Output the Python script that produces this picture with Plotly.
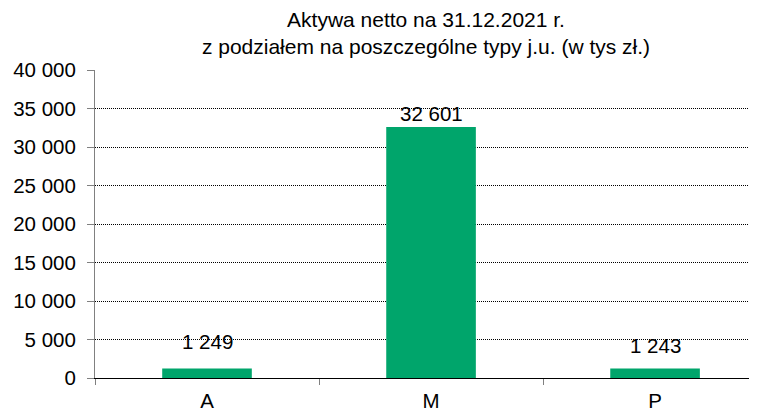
import plotly.graph_objects as go

categories = ["A", "M", "P"]
values = [1249, 32601, 1243]
value_labels = ["1 249", "32 601", "1 243"]
y_ticks = [0, 5000, 10000, 15000, 20000, 25000, 30000, 35000, 40000]
y_tick_labels = ["0", "5 000", "10 000", "15 000", "20 000", "25 000", "30 000", "35 000", "40 000"]
title_lines = ["Aktywa netto na 31.12.2021 r.", "z podziałem na poszczególne typy j.u. (w tys zł.)"]

FONT = "Liberation Sans, Arial, sans-serif"
label_shift = [27, 13, 23]

fig = go.Figure()
fig.add_trace(go.Bar(
    x=categories, y=values, width=0.4,
    marker=dict(color="#00A56B", line=dict(width=0)),
    hoverinfo="skip",
))

for c, v, t, s in zip(categories, values, value_labels, label_shift):
    fig.add_annotation(x=c, y=v, text=t, showarrow=False, yanchor="middle",
                       yshift=s, font=dict(family=FONT, size=20.5, color="#000000"))

fig.update_layout(
    width=749, height=404,
    margin=dict(l=87, r=0, t=62, b=34),
    paper_bgcolor="white", plot_bgcolor="white",
    showlegend=False,
    title=dict(text="<br>".join(title_lines), x=0.5, xref="paper", xanchor="center",
               y=0.953, yref="container", yanchor="top",
               font=dict(family=FONT, size=21, color="#000000")),
    font=dict(family=FONT, size=20.5, color="#000000"),
)
fig.update_xaxes(
    range=[-0.5, 2.455], type="category",
    showline=True, linecolor="#000000", linewidth=1,
    ticks="outside", tickson="boundaries", ticklen=6, tickcolor="#808080",
    showgrid=False, tickfont=dict(family=FONT, size=20.5), ticklabelstandoff=4,
)
fig.update_yaxes(
    range=[0, 40000], tickvals=y_ticks, ticktext=y_tick_labels,
    showline=True, linecolor="#808080", linewidth=1,
    ticks="outside", ticklen=7, tickcolor="#808080",
    showgrid=True, gridcolor="#000000", gridwidth=1, griddash="1px,1px",
    zeroline=False, tickfont=dict(family=FONT, size=20.5), ticklabelstandoff=7,
)

fig.write_html("out.html")
